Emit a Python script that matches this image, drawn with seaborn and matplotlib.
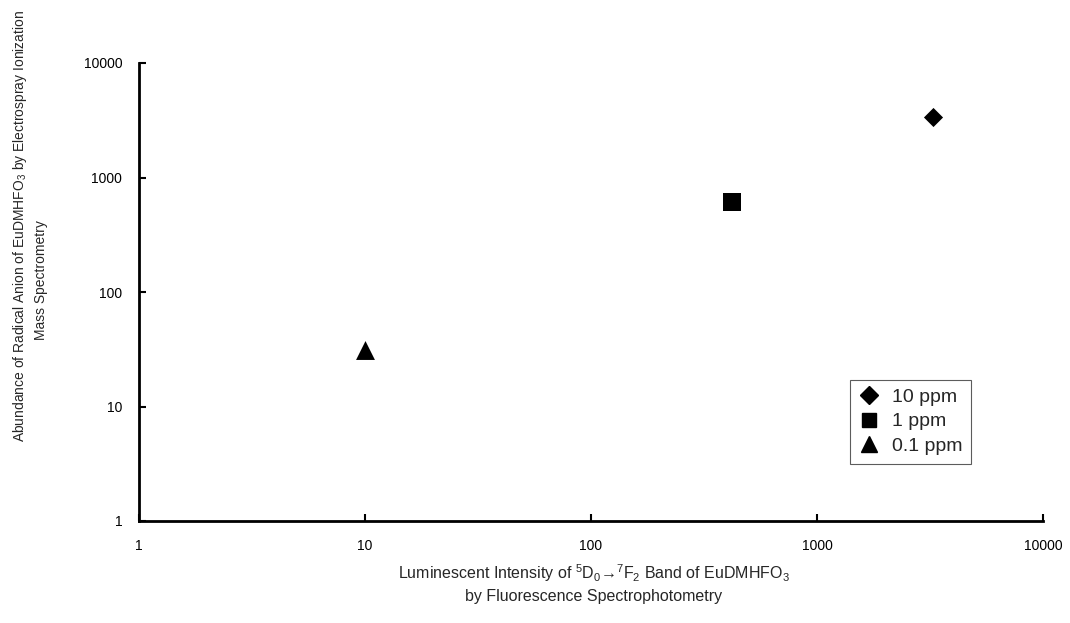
import numpy as np
import pandas as pd
import matplotlib
matplotlib.use("Agg")
import matplotlib.pyplot as plt
from matplotlib.ticker import FixedLocator, FixedFormatter, NullLocator
import seaborn as sns

# values (log-log)
series = ["10 ppm", "1 ppm", "0.1 ppm"]
luminescence = [3250, 420, 10]      # x: fluorescence intensity
abundance = [3350, 610, 31]         # y: ESI-MS abundance
markers = ["D", "s", "^"]
marker_sizes = [95, 170, 185]
tick_values = [1, 10, 100, 1000, 10000]
tick_labels = ["1", "10", "100", "1000", "10000"]

df = pd.DataFrame({"Series": series, "Lum": luminescence, "Abund": abundance})

sns.set_style("ticks")
plt.rcParams["font.family"] = ["Liberation Sans", "DejaVu Sans"]
plt.rcParams["mathtext.default"] = "regular"

fig = plt.figure(figsize=(10.7, 6.23), dpi=100)
ax = fig.add_axes([139 / 1070, 102 / 623, 904 / 1070, 458 / 623])

for i, row in df.iterrows():
    sns.scatterplot(x=[row["Lum"]], y=[row["Abund"]], marker=markers[i],
                    s=marker_sizes[i], color="black", edgecolor="black",
                    linewidth=0, label=row["Series"], ax=ax, legend=False)

ax.set_xscale("log")
ax.set_yscale("log")
ax.set_xlim(1, 10000)
ax.set_ylim(1, 10000)
for axis in (ax.xaxis, ax.yaxis):
    axis.set_major_locator(FixedLocator(tick_values))
    axis.set_major_formatter(FixedFormatter(tick_labels))
    axis.set_minor_locator(NullLocator())

sns.despine(ax=ax)
for side in ("left", "bottom"):
    ax.spines[side].set_linewidth(2)
    ax.spines[side].set_color("black")
ax.tick_params(direction="in", length=5, width=1.5, labelsize=10, colors="black")
ax.tick_params(axis="x", pad=13)
ax.tick_params(axis="y", pad=12)

handles = [plt.Line2D([], [], marker=m, color="black", linestyle="none",
                      markersize=ms) for m, ms in zip(markers, [9, 10, 11])]
leg = ax.legend(handles, series, loc="lower left", bbox_to_anchor=(0.776, 0.104),
                fontsize=14, frameon=True, fancybox=False, handlelength=1.0,
                handletextpad=0.7, labelspacing=0.35, borderpad=0.45)
leg.get_frame().set_edgecolor("#333333")
leg.get_frame().set_linewidth(0.8)

fig.text(20 / 1070, 1 - 226 / 623,
         "Abundance of Radical Anion of EuDMHFO$_3$ by Electrospray Ionization",
         rotation=90, ha="center", va="center", fontsize=10)
fig.text(41 / 1070, 1 - 280 / 623, "Mass Spectrometry",
         rotation=90, ha="center", va="center", fontsize=10)
fig.text(594 / 1070, 1 - 573 / 623,
         "Luminescent Intensity of $^5$D$_0$\u2192$^7$F$_2$ Band of EuDMHFO$_3$",
         ha="center", va="center", fontsize=11.5)
fig.text(594 / 1070, 1 - 597 / 623, "by Fluorescence Spectrophotometry",
         ha="center", va="center", fontsize=11.5)

fig.savefig("out.png", dpi=100)
